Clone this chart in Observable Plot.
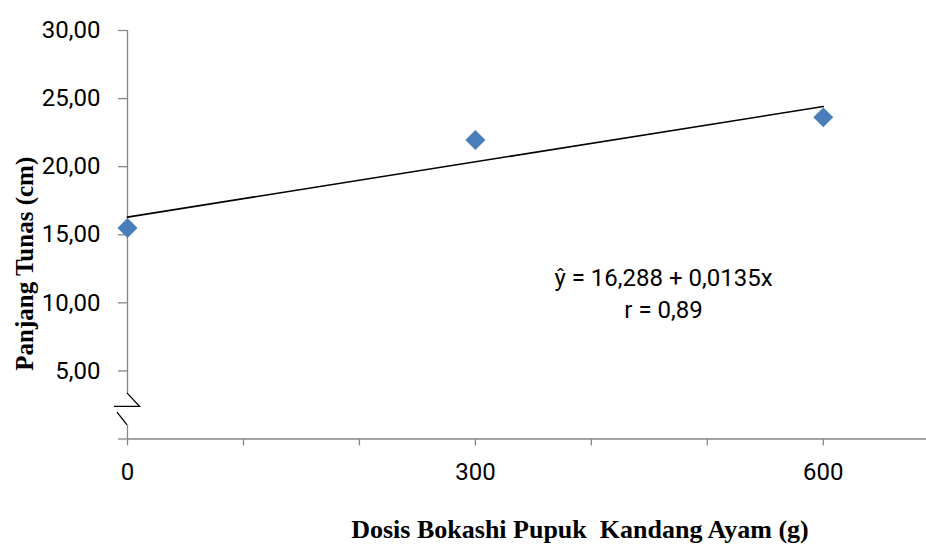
<!DOCTYPE html>
<html>
<head>
<meta charset="utf-8">
<script src="https://cdn.jsdelivr.net/npm/d3@7"></script>
<script src="https://cdn.jsdelivr.net/npm/@observablehq/plot@0.6"></script>
<style>
  html, body { margin: 0; padding: 0; background: #fff; }
  #chart { width: 926px; height: 544px; overflow: hidden; }
</style>
</head>
<body>
<div id="chart"></div>
<script>
// ---- data ----
const doses = [0, 300, 600];
const lengths = [15.5, 21.95, 23.62];
const yTicks = [5, 10, 15, 20, 25, 30];
const xTicks = [0, 100, 200, 300, 400, 500, 600];
const xLabels = [0, 300, 600];
const equationLines = ["ŷ = 16,288 + 0,0135x", "r = 0,89"];
const xTitle = "Dosis Bokashi Pupuk  Kandang Ayam (g)";
const yTitle = "Panjang Tunas (cm)";
const axisBreak = [1.0, 3.35]; // gap in the y axis line (data units)

const data = doses.map((d, i) => ({dose: d, len: lengths[i]}));
const fmt = v => d3.format(".2f")(v).replace(".", ",");
const grey = "#868686";

// custom mark: axis break zig-zag drawn with the y scale
function breakMark(index, scales) {
  const x0 = scales.x(0);
  const yTop = scales.y(axisBreak[1]);
  const yBot = scales.y(axisBreak[0]);
  const h = yBot - yTop;
  const g = d3.create("svg:g").attr("stroke", "black").attr("stroke-width", 1.3).attr("fill", "none");
  const yMid = yTop + h * 0.42;
  g.append("path").attr("d", `M${x0},${yTop}L${x0 + 12.5},${yMid}L${x0 - 13},${yMid}`);
  g.append("path").attr("d", `M${x0 - 10},${yTop + h * 0.6}L${x0},${yBot}`);
  return g.node();
}

const plot = Plot.plot({
  width: 926,
  height: 544,
  marginTop: 30,
  marginBottom: 105.5,
  marginLeft: 127,
  marginRight: 0,
  style: {fontFamily: "Roboto, sans-serif", fontSize: "24px", color: "black", background: "white"},
  x: {domain: [0, 689], axis: null},
  y: {domain: [0, 30], axis: null},
  marks: [
    // axis lines
    Plot.ruleY([0], {stroke: grey, strokeWidth: 1.3}),
    Plot.ruleX([{y1: 0, y2: axisBreak[0]}, {y1: axisBreak[1], y2: 30}], {x: 0, y1: "y1", y2: "y2", stroke: grey, strokeWidth: 1.3}),
    // y ticks + labels
    Plot.axisY([0, ...yTicks], {label: null, tickSize: 9, tickFormat: () => "", stroke: grey, strokeWidth: 1.3}),
    Plot.axisY(yTicks, {label: null, tickSize: 0, tickPadding: 27, tickFormat: fmt, fontSize: 24, fill: "black"}),
    // x ticks + labels
    Plot.axisX(xTicks, {label: null, tickSize: 7, tickFormat: () => "", stroke: grey, strokeWidth: 1.3}),
    Plot.axisX(xLabels, {label: null, tickSize: 0, tickPadding: 24, tickFormat: d => String(d), fontSize: 24, fill: "black"}),
    breakMark,
    // trend line
    Plot.linearRegressionY(data, {x: "dose", y: "len", ci: 0, stroke: "black", strokeWidth: 1.6}),
    // points
    Plot.dot(data, {x: "dose", y: "len", symbol: "diamond2", r: 9, fill: "#4a7ebb", stroke: "none"}),
    // equation
    Plot.text([equationLines.join("\n")], {frameAnchor: "top-left", dx: 536, dy: 261, textAnchor: "middle", lineAnchor: "middle", lineHeight: 1.33, fontSize: 24, fill: "black"}),
    // axis titles
    Plot.text([xTitle], {frameAnchor: "bottom", dx: 53, dy: 91, textAnchor: "middle", lineAnchor: "middle", fontFamily: "Liberation Serif", fontWeight: "bold", fontSize: 26, fill: "black"}),
    Plot.text([yTitle], {frameAnchor: "left", dx: -103, dy: 29, rotate: -90, textAnchor: "middle", lineAnchor: "middle", fontFamily: "Liberation Serif", fontWeight: "bold", fontSize: 25, fill: "black"})
  ]
});
document.getElementById("chart").appendChild(plot);
</script>
</body>
</html>
